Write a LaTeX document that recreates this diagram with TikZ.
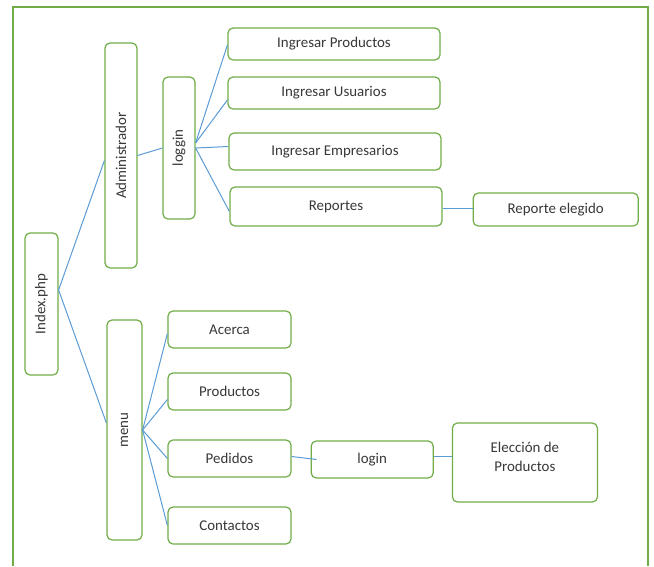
\documentclass[tikz,border=0pt]{standalone}
\usepackage{fontspec}
\setmainfont{Carlito}
\usepackage{tikz}
\usetikzlibrary{positioning}

\definecolor{boxgreen}{HTML}{70AD47}
\definecolor{linkblue}{HTML}{5B9BD5}

\tikzset{
  box/.style={draw=boxgreen, line width=1.2pt, rounded corners=5pt, fill=white,
    text=black!78, font=\fontsize{14.9}{17}\selectfont, inner sep=0pt},
  link/.style={draw=linkblue, line width=1pt}
}

\begin{document}
\begin{tikzpicture}[x=1pt, y=-1pt]
\useasboundingbox (0,0) rectangle (654,566);
\draw[boxgreen, line width=1.5pt] (13,566) -- (13,7) -- (648,7) -- (648,566);

\node[box, minimum width=33pt, minimum height=142pt] (Idx) at (41.5,304) {\rotatebox{90}{Index.php}};
\node[box, minimum width=32pt, minimum height=225pt] (Adm) at (121,155.5) {\rotatebox{90}{Administrador}};
\node[box, minimum width=32pt, minimum height=142pt] (Log) at (179,148) {\rotatebox{90}{loggin}};
\node[box, minimum width=35pt, minimum height=220pt] (Menu) at (124.5,430) {\rotatebox{90}{menu}};

\node[box, minimum width=212pt, minimum height=32pt] (IP) at (334,44) {Ingresar Productos};
\node[box, minimum width=212pt, minimum height=32pt] (IU) at (334,93) {Ingresar Usuarios};
\node[box, minimum width=212pt, minimum height=37pt] (IE) at (335,151.5) {Ingresar Empresarios};
\node[box, minimum width=212pt, minimum height=39pt] (Rep) at (336,206.5) {\raisebox{2pt}{Reportes}};
\node[box, minimum width=165pt, minimum height=33pt, right=30pt of Rep, yshift=-3pt] (RepEl) {Reporte elegido};

\node[box, minimum width=123pt, minimum height=37pt] (Ac) at (229.5,329.5) {Acerca};
\node[box, minimum width=123pt, minimum height=37pt] (Prod) at (229.5,391.5) {Productos};
\node[box, minimum width=123pt, minimum height=37pt] (Ped) at (229.5,458.5) {Pedidos};
\node[box, minimum width=123pt, minimum height=37pt] (Cont) at (229.5,525.5) {Contactos};
\node[box, minimum width=122pt, minimum height=37pt, right=19pt of Ped, yshift=-1pt] (Lgn) {login};
\node[box, minimum width=145pt, minimum height=79pt, right=18pt of Lgn, yshift=-3pt,
  label={[yshift=6pt, align=center, text=black!78, font=\fontsize{14.9}{19}\selectfont]center:Elección de\\Productos}] (Elec) {};

\draw[link] ([yshift=14pt]Idx.east) -- ([yshift=-5pt]Adm.west);
\draw[link] ([yshift=14pt]Idx.east) -- ([yshift=7pt]Menu.west);
\draw[link] (Adm.east) -- (Log.west);
\draw[link] ([yshift=5pt]Log.east) -- ([yshift=-1pt]IP.west);
\draw[link] ([yshift=5pt]Log.east) -- ([yshift=-7pt]IU.west);
\draw[link] (Log.east) -- ([yshift=5pt]IE.west);
\draw[link] (Log.east) -- ([yshift=-5pt]Rep.west);
\draw[link] ([yshift=-1.5pt]Rep.east) -- ([yshift=1.5pt]RepEl.west);

\draw[link] (Menu.east) -- ([yshift=-4pt]Ac.west);
\draw[link] (Menu.east) -- ([yshift=-8pt]Prod.west);
\draw[link] (Menu.east) -- (Ped.west);
\draw[link] (Menu.east) -- (Cont.west);
\draw[link] ([yshift=2pt]Ped.east) -- ([xshift=6pt]Lgn.west);
\draw[link] ([yshift=3pt]Lgn.east) -- ([yshift=6pt]Elec.west);
\end{tikzpicture}
\end{document}
